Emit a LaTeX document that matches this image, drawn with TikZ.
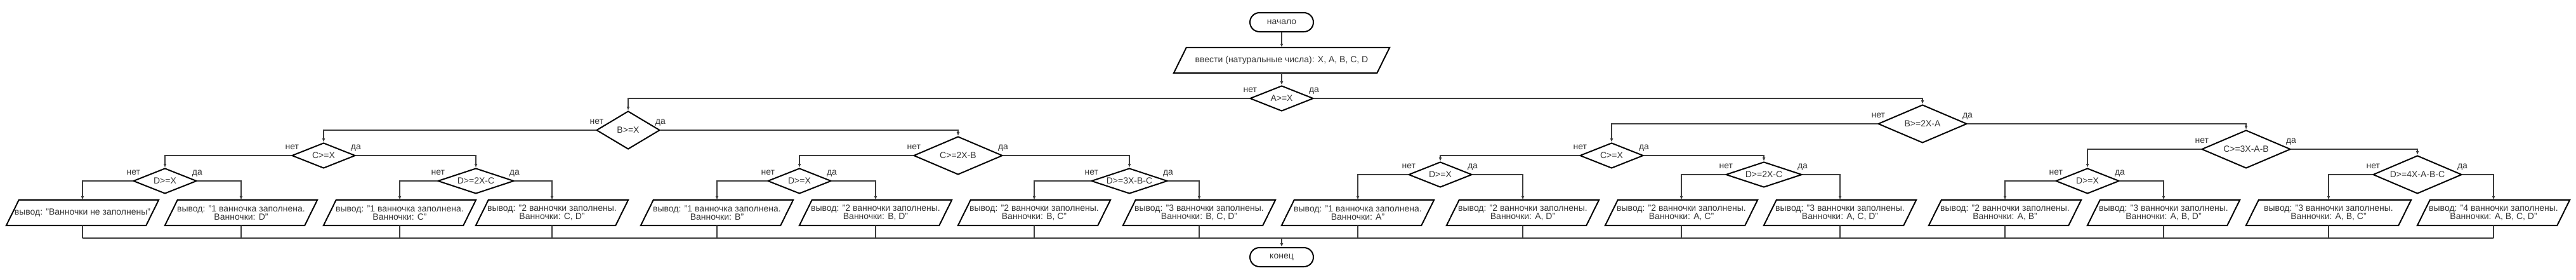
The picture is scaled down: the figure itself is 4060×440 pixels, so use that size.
\documentclass[tikz,border=0pt]{standalone}
\usepackage{fontspec}
\setmainfont{Liberation Sans}
\usetikzlibrary{shapes.geometric,arrows.meta,calc}
\definecolor{ink}{HTML}{333333}
\definecolor{wire}{HTML}{3C3C3C}

\begin{document}
\begin{tikzpicture}[
    x=1pt, y=-1pt,
    >={Latex[length=6pt,width=5pt]},
    every node/.style = {font=\fontsize{14}{13.3}\selectfont, text=ink},
    terminal/.style = {rectangle, rounded corners=15pt, draw=black, line width=2pt, minimum width=100pt, minimum height=30pt, inner sep=0pt},
    io/.style = {rectangle, minimum width=220pt, minimum height=40pt, inner sep=0pt, align=center},
    outline/.style = {draw=black, line width=2pt, line join=miter},
    cond/.style = {diamond, draw=black, line width=2pt, inner sep=0pt, minimum width=100pt, minimum height=40pt, aspect=2.5},
    condwide/.style = {cond, minimum width=120pt, aspect=3},
    condbig/.style = {cond, minimum width=140pt, minimum height=60pt, aspect=2.33},
    condtall/.style = {cond, minimum height=60pt, aspect=1.67},
    conn/.style = {->, draw=wire, line width=1.3pt},
    nolabel/.style = {at start, anchor=base east, xshift=16pt, yshift=10pt},
    yeslabel/.style = {at start, anchor=base west, xshift=-12pt, yshift=10pt}
]
    \useasboundingbox (0,0) rectangle (4060,440);

    % Start and input
    \node[terminal] (start) at (2020,35) {начало};
    \node[io, minimum width=320pt] (input) at (2020,95) {ввести (натуральные числа): X, A, B, C, D};

    % Conditions
    \node[cond] (a) at (2020,155) {A>=X};
    \node[condtall] (b1) at (990,205) {B>=X};
    \node[condbig] (b2) at (3030,195) {B>=2X-A};
    \node[cond] (c1) at (510,245) {C>=X};
    \node[condbig] (c2) at (1510,245) {C>=2X-B};
    \node[cond] (c3) at (2540,245) {C>=X};
    \node[condbig] (c4) at (3540,235) {C>=3X-A-B};
    \node[cond] (d1) at (260,285) {D>=X};
    \node[condwide] (d2) at (750,285) {D>=2X-C};
    \node[cond] (d3) at (1260,285) {D>=X};
    \node[condwide] (d4) at (1780,285) {D>=3X-B-C};
    \node[cond] (d5) at (2270,275) {D>=X};
    \node[condwide] (d6) at (2780,275) {D>=2X-C};
    \node[cond] (d7) at (3290,285) {D>=X};
    \node[condbig] (d8) at (3810,275) {D>=4X-A-B-C};

    % Outputs
    \node[io] (l0) at (130,335) {вывод: "Ванночки не заполнены"};
    \node[io] (l1) at (380,335) {вывод: "1 ванночка заполнена.\\Ванночки: D"};
    \node[io] (l2) at (630,335) {вывод: "1 ванночка заполнена.\\Ванночки: C"};
    \node[io] (l3) at (870,335) {вывод: "2 ванночки заполнены.\\Ванночки: C, D"};
    \node[io] (l4) at (1130,335) {вывод: "1 ванночка заполнена.\\Ванночки: B"};
    \node[io] (l5) at (1380,335) {вывод: "2 ванночки заполнены.\\Ванночки: B, D"};
    \node[io] (l6) at (1630,335) {вывод: "2 ванночки заполнены.\\Ванночки: B, C"};
    \node[io] (l7) at (1890,335) {вывод: "3 ванночки заполнены.\\Ванночки: B, C, D"};
    \node[io] (l8) at (2140,335) {вывод: "1 ванночка заполнена.\\Ванночки: A"};
    \node[io] (l9) at (2400,335) {вывод: "2 ванночки заполнены.\\Ванночки: A, D"};
    \node[io] (l10) at (2650,335) {вывод: "2 ванночки заполнены.\\Ванночки: A, C"};
    \node[io] (l11) at (2900,335) {вывод: "3 ванночки заполнены.\\Ванночки: A, C, D"};
    \node[io] (l12) at (3160,335) {вывод: "2 ванночки заполнены.\\Ванночки: A, B"};
    \node[io] (l13) at (3410,335) {вывод: "3 ванночки заполнены.\\Ванночки: A, B, D"};
    \node[io, minimum width=240pt] (l14) at (3670,335) {вывод: "3 ванночки заполнены.\\Ванночки: A, B, C"};
    \node[io] (l15) at (3930,335) {вывод: "4 ванночки заполнены.\\Ванночки: A, B, C, D"};

    % Slanted outlines of the input/output blocks
    \foreach \n in {input,l0,l1,l2,l3,l4,l5,l6,l7,l8,l9,l10,l11,l12,l13,l14,l15}
        \draw[outline] ($(\n.south west)+(-10,0)$) -- ($(\n.south east)+(-10,0)$)
            -- ($(\n.north east)+(10,0)$) -- ($(\n.north west)+(10,0)$) -- cycle;

    % End
    \coordinate (join) at (2020,375);
    \node[terminal] (end) at (2020,405) {конец};

    % Arrows
    \draw[conn] (start) -- (input);
    \draw[conn] (input) -- (a);
    \draw[conn] (a.west) -| (b1) node[nolabel] {нет};
    \draw[conn] (a.east) -| (b2) node[yeslabel] {да};
    \draw[conn] (b1.west) -| (c1) node[nolabel] {нет};
    \draw[conn] (b1.east) -| (c2) node[yeslabel] {да};
    \draw[conn] (b2.west) -| (c3) node[nolabel] {нет};
    \draw[conn] (b2.east) -| (c4) node[yeslabel] {да};
    \draw[conn] (c1.west) -| (d1) node[nolabel] {нет};
    \draw[conn] (c1.east) -| (d2) node[yeslabel] {да};
    \draw[conn] (c2.west) -| (d3) node[nolabel] {нет};
    \draw[conn] (c2.east) -| (d4) node[yeslabel] {да};
    \draw[conn] (c3.west) -| (d5) node[nolabel] {нет};
    \draw[conn] (c3.east) -| (d6) node[yeslabel] {да};
    \draw[conn] (c4.west) -| (d7) node[nolabel] {нет};
    \draw[conn] (c4.east) -| (d8) node[yeslabel] {да};
    \draw[conn] (d1.west) -| (l0) node[nolabel] {нет};
    \draw[conn] (d1.east) -| (l1) node[yeslabel] {да};
    \draw[conn] (d2.west) -| (l2) node[nolabel] {нет};
    \draw[conn] (d2.east) -| (l3) node[yeslabel] {да};
    \draw[conn] (d3.west) -| (l4) node[nolabel] {нет};
    \draw[conn] (d3.east) -| (l5) node[yeslabel] {да};
    \draw[conn] (d4.west) -| (l6) node[nolabel] {нет};
    \draw[conn] (d4.east) -| (l7) node[yeslabel] {да};
    \draw[conn] (d5.west) -| (l8) node[nolabel] {нет};
    \draw[conn] (d5.east) -| (l9) node[yeslabel] {да};
    \draw[conn] (d6.west) -| (l10) node[nolabel] {нет};
    \draw[conn] (d6.east) -| (l11) node[yeslabel] {да};
    \draw[conn] (d7.west) -| (l12) node[nolabel] {нет};
    \draw[conn] (d7.east) -| (l13) node[yeslabel] {да};
    \draw[conn] (d8.west) -| (l14) node[nolabel] {нет};
    \draw[conn] (d8.east) -| (l15) node[yeslabel] {да};

    % Merge into end
    \foreach \i in {0,...,15}
        \draw[draw=wire, line width=1.3pt] (l\i) -- (l\i |- join);
    \draw[draw=wire, line width=2pt] (l0 |- join) -- (l15 |- join);
    \draw[conn] (join) -- (end);

\end{tikzpicture}
\end{document}
